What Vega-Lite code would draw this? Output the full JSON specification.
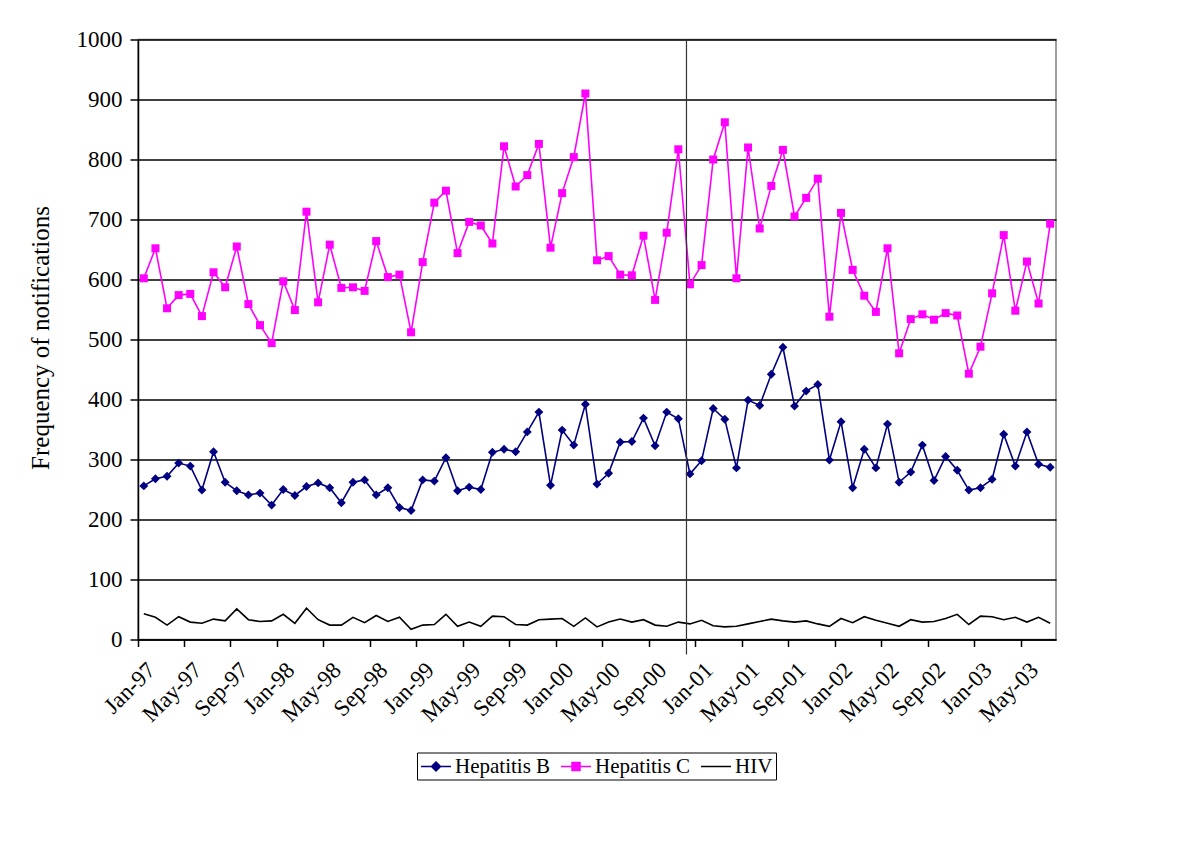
{
  "$schema": "https://vega.github.io/schema/vega-lite/v6.json",
  "autosize": "none",
  "width": 918,
  "height": 600,
  "padding": {"left": 138, "top": 39.5, "right": 144, "bottom": 207.5},
  "background": "white",
  "config": {
    "font": "Liberation Serif",
    "view": {"stroke": "#808080", "strokeWidth": 1.5},
    "axis": {"labelFont": "Liberation Serif", "labelFontSize": 23, "titleFont": "Liberation Serif", "labelColor": "black", "titleColor": "black", "domainColor": "black", "tickColor": "black", "gridColor": "black"},
    "legend": {"labelFont": "Liberation Serif", "labelFontSize": 21, "labelColor": "black"}
  },
  "data": {"values": [
    {"m":"Jan-97","Hepatitis B":256,"Hepatitis C":602,"HIV":43},
    {"m":"Feb-97","Hepatitis B":268,"Hepatitis C":652,"HIV":37},
    {"m":"Mar-97","Hepatitis B":272,"Hepatitis C":552,"HIV":24},
    {"m":"Apr-97","Hepatitis B":294,"Hepatitis C":574,"HIV":38},
    {"m":"May-97","Hepatitis B":289,"Hepatitis C":576,"HIV":29},
    {"m":"Jun-97","Hepatitis B":249,"Hepatitis C":539,"HIV":27},
    {"m":"Jul-97","Hepatitis B":313,"Hepatitis C":612,"HIV":34},
    {"m":"Aug-97","Hepatitis B":262,"Hepatitis C":587,"HIV":31},
    {"m":"Sep-97","Hepatitis B":248,"Hepatitis C":655,"HIV":51},
    {"m":"Oct-97","Hepatitis B":241,"Hepatitis C":559,"HIV":33},
    {"m":"Nov-97","Hepatitis B":244,"Hepatitis C":524,"HIV":30},
    {"m":"Dec-97","Hepatitis B":224,"Hepatitis C":494,"HIV":31},
    {"m":"Jan-98","Hepatitis B":250,"Hepatitis C":597,"HIV":42},
    {"m":"Feb-98","Hepatitis B":240,"Hepatitis C":549,"HIV":27},
    {"m":"Mar-98","Hepatitis B":255,"Hepatitis C":713,"HIV":52},
    {"m":"Apr-98","Hepatitis B":261,"Hepatitis C":562,"HIV":33},
    {"m":"May-98","Hepatitis B":253,"Hepatitis C":658,"HIV":24},
    {"m":"Jun-98","Hepatitis B":228,"Hepatitis C":586,"HIV":24},
    {"m":"Jul-98","Hepatitis B":262,"Hepatitis C":587,"HIV":37},
    {"m":"Aug-98","Hepatitis B":266,"Hepatitis C":581,"HIV":28},
    {"m":"Sep-98","Hepatitis B":241,"Hepatitis C":664,"HIV":40},
    {"m":"Oct-98","Hepatitis B":253,"Hepatitis C":604,"HIV":30},
    {"m":"Nov-98","Hepatitis B":220,"Hepatitis C":608,"HIV":37},
    {"m":"Dec-98","Hepatitis B":215,"Hepatitis C":512,"HIV":17},
    {"m":"Jan-99","Hepatitis B":266,"Hepatitis C":629,"HIV":24},
    {"m":"Feb-99","Hepatitis B":264,"Hepatitis C":728,"HIV":25},
    {"m":"Mar-99","Hepatitis B":303,"Hepatitis C":748,"HIV":42},
    {"m":"Apr-99","Hepatitis B":248,"Hepatitis C":644,"HIV":22},
    {"m":"May-99","Hepatitis B":254,"Hepatitis C":696,"HIV":29},
    {"m":"Jun-99","Hepatitis B":250,"Hepatitis C":690,"HIV":22},
    {"m":"Jul-99","Hepatitis B":312,"Hepatitis C":660,"HIV":39},
    {"m":"Aug-99","Hepatitis B":317,"Hepatitis C":822,"HIV":38},
    {"m":"Sep-99","Hepatitis B":313,"Hepatitis C":755,"HIV":25},
    {"m":"Oct-99","Hepatitis B":346,"Hepatitis C":774,"HIV":24},
    {"m":"Nov-99","Hepatitis B":379,"Hepatitis C":826,"HIV":33},
    {"m":"Dec-99","Hepatitis B":257,"Hepatitis C":653,"HIV":34},
    {"m":"Jan-00","Hepatitis B":349,"Hepatitis C":744,"HIV":35},
    {"m":"Feb-00","Hepatitis B":324,"Hepatitis C":804,"HIV":22},
    {"m":"Mar-00","Hepatitis B":392,"Hepatitis C":910,"HIV":36},
    {"m":"Apr-00","Hepatitis B":259,"Hepatitis C":632,"HIV":21},
    {"m":"May-00","Hepatitis B":277,"Hepatitis C":639,"HIV":29},
    {"m":"Jun-00","Hepatitis B":329,"Hepatitis C":608,"HIV":34},
    {"m":"Jul-00","Hepatitis B":330,"Hepatitis C":607,"HIV":29},
    {"m":"Aug-00","Hepatitis B":369,"Hepatitis C":673,"HIV":33},
    {"m":"Sep-00","Hepatitis B":323,"Hepatitis C":566,"HIV":24},
    {"m":"Oct-00","Hepatitis B":379,"Hepatitis C":678,"HIV":22},
    {"m":"Nov-00","Hepatitis B":368,"Hepatitis C":817,"HIV":29},
    {"m":"Dec-00","Hepatitis B":276,"Hepatitis C":592,"HIV":26},
    {"m":"Jan-01","Hepatitis B":298,"Hepatitis C":624,"HIV":32},
    {"m":"Feb-01","Hepatitis B":385,"Hepatitis C":800,"HIV":23},
    {"m":"Mar-01","Hepatitis B":367,"Hepatitis C":862,"HIV":21},
    {"m":"Apr-01","Hepatitis B":286,"Hepatitis C":602,"HIV":22},
    {"m":"May-01","Hepatitis B":399,"Hepatitis C":820,"HIV":26},
    {"m":"Jun-01","Hepatitis B":390,"Hepatitis C":685,"HIV":30},
    {"m":"Jul-01","Hepatitis B":442,"Hepatitis C":756,"HIV":34},
    {"m":"Aug-01","Hepatitis B":487,"Hepatitis C":816,"HIV":31},
    {"m":"Sep-01","Hepatitis B":389,"Hepatitis C":705,"HIV":29},
    {"m":"Oct-01","Hepatitis B":414,"Hepatitis C":736,"HIV":31},
    {"m":"Nov-01","Hepatitis B":425,"Hepatitis C":768,"HIV":26},
    {"m":"Dec-01","Hepatitis B":299,"Hepatitis C":538,"HIV":22},
    {"m":"Jan-02","Hepatitis B":363,"Hepatitis C":711,"HIV":35},
    {"m":"Feb-02","Hepatitis B":253,"Hepatitis C":616,"HIV":28},
    {"m":"Mar-02","Hepatitis B":317,"Hepatitis C":573,"HIV":38},
    {"m":"Apr-02","Hepatitis B":286,"Hepatitis C":546,"HIV":32},
    {"m":"May-02","Hepatitis B":359,"Hepatitis C":652,"HIV":27},
    {"m":"Jun-02","Hepatitis B":262,"Hepatitis C":477,"HIV":22},
    {"m":"Jul-02","Hepatitis B":279,"Hepatitis C":534,"HIV":33},
    {"m":"Aug-02","Hepatitis B":324,"Hepatitis C":542,"HIV":29},
    {"m":"Sep-02","Hepatitis B":265,"Hepatitis C":533,"HIV":30},
    {"m":"Oct-02","Hepatitis B":305,"Hepatitis C":544,"HIV":35},
    {"m":"Nov-02","Hepatitis B":282,"Hepatitis C":540,"HIV":42},
    {"m":"Dec-02","Hepatitis B":249,"Hepatitis C":443,"HIV":25},
    {"m":"Jan-03","Hepatitis B":253,"Hepatitis C":488,"HIV":39},
    {"m":"Feb-03","Hepatitis B":267,"Hepatitis C":577,"HIV":38},
    {"m":"Mar-03","Hepatitis B":342,"Hepatitis C":674,"HIV":33},
    {"m":"Apr-03","Hepatitis B":289,"Hepatitis C":548,"HIV":37},
    {"m":"May-03","Hepatitis B":346,"Hepatitis C":630,"HIV":29},
    {"m":"Jun-03","Hepatitis B":292,"Hepatitis C":560,"HIV":37},
    {"m":"Jul-03","Hepatitis B":287,"Hepatitis C":693,"HIV":27}
  ]},
  "transform": [
    {"fold": ["Hepatitis B", "Hepatitis C", "HIV"], "as": ["series", "value"]}
  ],
  "encoding": {
    "x": {
      "field": "m", "type": "nominal", "sort": null,
      "scale": {"type": "band", "paddingInner": 0, "paddingOuter": 0},
      "axis": {
        "title": null,
        "values": ["Jan-97","May-97","Sep-97","Jan-98","May-98","Sep-98","Jan-99","May-99","Sep-99","Jan-00","May-00","Sep-00","Jan-01","May-01","Sep-01","Jan-02","May-02","Sep-02","Jan-03","May-03"],
        "bandPosition": 0,
        "labelAngle": -45,
        "labelAlign": "right",
        "labelBaseline": "top",
        "labelFont": "Liberation Serif",
        "labelFontSize": 23,
        "labelPadding": 12,
        "tickSize": 7,
        "tickWidth": 1.5,
        "domainWidth": 1.5,
        "grid": false,
        "labelOverlap": false,
        "encode": {"labels": {"update": {"font": {"value": "Liberation Serif"}, "fontSize": {"value": 23}, "fill": {"value": "black"}}}}
      }
    },
    "y": {
      "field": "value", "type": "quantitative",
      "scale": {"domain": [0, 1000], "nice": false},
      "axis": {
        "title": "Frequency of notifications",
        "titleFontSize": 25,
        "titleFontWeight": "normal",
        "titleAngle": -90,
        "titleX": -90,
        "titleY": 298,
        "titleAlign": "center",
        "titleBaseline": "alphabetic",
        "values": [0,100,200,300,400,500,600,700,800,900,1000],
        "format": "d",
        "labelFont": "Liberation Serif",
        "labelFontSize": 23,
        "labelPadding": 8,
        "tickSize": 8,
        "tickWidth": 1.5,
        "domainWidth": 1.5,
        "grid": true,
        "gridWidth": 1.5,
        "gridColor": "black",
        "encode": {"labels": {"update": {"font": {"value": "Liberation Serif"}, "fontSize": {"value": 23}, "fill": {"value": "black"}}}}
      }
    }
  },
  "layer": [
    {
      "mark": {"type": "line", "strokeWidth": 1.6},
      "encoding": {
        "color": {
          "field": "series", "type": "nominal",
          "scale": {"domain": ["Hepatitis B", "Hepatitis C", "HIV"], "range": ["#000080", "#FF00FF", "#000000"]},
          "legend": {
            "title": null,
            "orient": "none",
            "legendX": 279,
            "legendY": 713,
            "direction": "horizontal",
            "strokeColor": "black",
            "padding": 3,
            "labelFont": "Liberation Serif",
            "labelFontSize": 21,
            "labelColor": "black",
            "labelOffset": 13,
            "columnPadding": 7,
            "symbolSize": 400,
            "symbolStrokeWidth": 1.5,
            "encode": {
              "labels": {"update": {"font": {"value": "Liberation Serif"}, "fontSize": {"value": 21}, "fill": {"value": "black"}}},
              "symbols": {
                "update": {
                  "shape": {"signal": "datum.value === 'Hepatitis B' ? 'M-1,0H2M0.5,-0.45L0.95,0L0.5,0.45L0.05,0Z' : (datum.value === 'Hepatitis C' ? 'M-1,0H2M0.1,-0.4H0.9V0.4H0.1Z' : 'M-1,0H2')"},
                  "fill": {"signal": "datum.value === 'Hepatitis B' ? '#000080' : (datum.value === 'Hepatitis C' ? '#FF00FF' : '#000000')"},
                  "stroke": {"signal": "datum.value === 'Hepatitis B' ? '#000080' : (datum.value === 'Hepatitis C' ? '#FF00FF' : '#000000')"},
                  "strokeWidth": {"value": 1.5},
                  "opacity": {"value": 1}
                }
              }
            }
          }
        }
      }
    },
    {
      "transform": [{"filter": "datum.series === 'Hepatitis B'"}],
      "mark": {"type": "point", "shape": "diamond", "filled": true, "size": 80, "color": "#000080", "opacity": 1}
    },
    {
      "transform": [{"filter": "datum.series === 'Hepatitis C'"}],
      "mark": {"type": "point", "shape": "square", "filled": true, "size": 64, "color": "#FF00FF", "opacity": 1}
    },
    {
      "transform": [{"filter": "datum.series === 'HIV' && datum.m === 'Dec-00'"}],
      "mark": {"type": "rule", "color": "#333333", "strokeWidth": 1.2},
      "encoding": {
        "x": {"field": "m", "type": "nominal", "sort": null, "bandPosition": 0.2},
        "y": {"datum": 1000},
        "y2": {"datum": -25}
      }
    }
  ]
}
